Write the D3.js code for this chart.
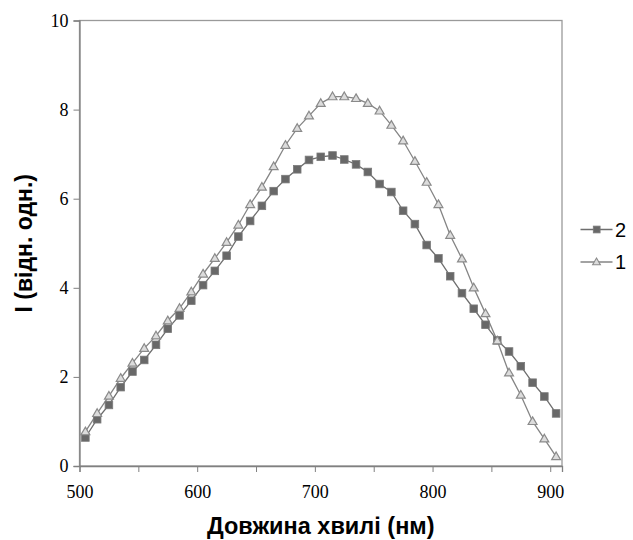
<!DOCTYPE html>
<html>
<head>
<meta charset="utf-8">
<script src="https://cdn.jsdelivr.net/npm/d3@7"></script>
<style>
  body { margin: 0; background: #fff; }
  svg { display: block; }
</style>
</head>
<body>
<svg id="chart" width="633" height="540"></svg>
<script>
// довжина хвилі, нм
var lambda = [505, 515, 525, 535, 545, 555, 565, 575, 585, 595,
              605, 615, 625, 635, 645, 655, 665, 675, 685, 695,
              705, 715, 725, 735, 745, 755, 765, 775, 785, 795,
              805, 815, 825, 835, 845, 855, 865, 875, 885, 895, 905];

// крива 1 (трикутники)
var series1 = [0.77, 1.18, 1.57, 1.97, 2.31, 2.64, 2.92, 3.26, 3.54, 3.91,
               4.31, 4.66, 5.02, 5.41, 5.87, 6.26, 6.72, 7.20, 7.58, 7.86,
               8.14, 8.29, 8.29, 8.25, 8.14, 7.97, 7.65, 7.30, 6.84, 6.37,
               5.87, 5.18, 4.65, 4.00, 3.42, 2.81, 2.09, 1.59, 1.00, 0.61, 0.21];

// крива 2 (квадрати)
var series2 = [0.64, 1.05, 1.37, 1.77, 2.12, 2.38, 2.72, 3.08, 3.38, 3.71,
               4.06, 4.38, 4.72, 5.15, 5.50, 5.84, 6.17, 6.44, 6.66, 6.87,
               6.94, 6.97, 6.88, 6.77, 6.60, 6.33, 6.15, 5.73, 5.43, 4.96,
               4.66, 4.26, 3.88, 3.53, 3.17, 2.82, 2.57, 2.24, 1.87, 1.56, 1.18];

var xTicks = [500, 600, 700, 800, 900];
var xMinor = [550, 650, 750, 850];
var yTicks = [0, 2, 4, 6, 8, 10];

var svg = d3.select("#chart");
var pLeft = 79.5, pRight = 562, pTop = 20.5, pBottom = 466;

var sx = d3.scaleLinear().domain([500, 910]).range([pLeft, pRight]);
var sy = d3.scaleLinear().domain([0, 10]).range([pBottom, pTop]);

var serif = "'Liberation Serif', 'Times New Roman', serif";
var sans = "'Liberation Sans', Arial, sans-serif";

// рамка
svg.append("rect")
  .attr("x", pLeft).attr("y", pTop)
  .attr("width", pRight - pLeft).attr("height", pBottom - pTop)
  .attr("fill", "none").attr("stroke", "#9a9a9a").attr("stroke-width", 1.3);

// вісь X
var ax = svg.append("g").attr("transform", "translate(0," + pBottom + ")")
  .call(d3.axisBottom(sx).tickValues(xTicks.concat(xMinor)).tickSize(6).tickPadding(13)
    .tickFormat(function(d){ return xTicks.indexOf(d) >= 0 ? d : ""; }));
ax.attr("font-size", null).attr("font-family", null);
ax.select(".domain").attr("stroke", "#808080").attr("stroke-width", 1.3);
ax.selectAll(".tick line").attr("stroke", "#808080");
ax.selectAll("text").style("font-family", serif).style("font-size", "18px").attr("fill", "#000");

// вісь Y
var ay = svg.append("g").attr("transform", "translate(" + pLeft + ",0)")
  .call(d3.axisLeft(sy).tickValues(yTicks).tickSize(6).tickPadding(5));
ay.attr("font-size", null).attr("font-family", null);
ay.select(".domain").attr("stroke", "#808080").attr("stroke-width", 1.3);
ay.selectAll(".tick line").attr("stroke", "#808080");
ay.selectAll("text").style("font-family", serif).style("font-size", "18px").attr("fill", "#000");

// лінії
var line = d3.line()
  .x(function(d, i){ return sx(lambda[i]); })
  .y(function(d){ return sy(d); });

svg.append("path").datum(series1)
  .attr("d", line).attr("fill", "none").attr("stroke", "#858585").attr("stroke-width", 1.3);
svg.append("path").datum(series2)
  .attr("d", line).attr("fill", "none").attr("stroke", "#6e6e6e").attr("stroke-width", 1.3);

var tri = d3.symbol().type(d3.symbolTriangle).size(34);

svg.selectAll(".m2").data(series2).enter().append("rect")
  .attr("class", "m2")
  .attr("x", function(d, i){ return sx(lambda[i]) - 3.8; })
  .attr("y", function(d){ return sy(d) - 3.8; })
  .attr("width", 7.6).attr("height", 7.6)
  .attr("fill", "#686868").attr("stroke", "#7a7a7a").attr("stroke-width", 0.8);

svg.selectAll(".m1").data(series1).enter().append("path")
  .attr("class", "m1")
  .attr("d", tri)
  .attr("transform", function(d, i){ return "translate(" + sx(lambda[i]) + "," + (sy(d) + 0.5) + ")"; })
  .attr("fill", "#dcdcdc").attr("stroke", "#8a8a8a").attr("stroke-width", 1.2);

// легенда
var leg = svg.append("g");
var legItems = [{name: "2", y: 229.5, t: "sq"}, {name: "1", y: 262, t: "tri"}];
legItems.forEach(function(it){
  leg.append("line").attr("x1", 580.5).attr("x2", 612.5).attr("y1", it.y).attr("y2", it.y)
    .attr("stroke", it.t == "sq" ? "#6e6e6e" : "#858585").attr("stroke-width", 1.3);
  if(it.t == "sq"){
    leg.append("rect").attr("x", 593.3).attr("y", it.y - 3.4).attr("width", 6.8).attr("height", 6.8)
      .attr("fill", "#686868").attr("stroke", "#7a7a7a").attr("stroke-width", 0.8);
  } else {
    leg.append("path").attr("d", d3.symbol().type(d3.symbolTriangle).size(26))
      .attr("transform", "translate(596.5," + (it.y + 0.5) + ")")
      .attr("fill", "#dcdcdc").attr("stroke", "#8a8a8a").attr("stroke-width", 1.1);
  }
  leg.append("text").attr("x", 615).attr("y", it.y + 7)
    .attr("font-family", sans).attr("font-size", 20).text(it.name);
});

// підписи осей
svg.append("text")
  .attr("x", (pLeft + pRight) / 2).attr("y", 534)
  .attr("text-anchor", "middle")
  .attr("font-family", sans).attr("font-size", 23.5).attr("font-weight", "bold")
  .text("Довжина хвилі (нм)");

svg.append("text")
  .attr("transform", "translate(32," + ((pTop + pBottom) / 2) + ") rotate(-90)")
  .attr("text-anchor", "middle")
  .attr("font-family", sans).attr("font-size", 23).attr("font-weight", "bold")
  .text("I (відн. одн.)");
</script>
</body>
</html>
